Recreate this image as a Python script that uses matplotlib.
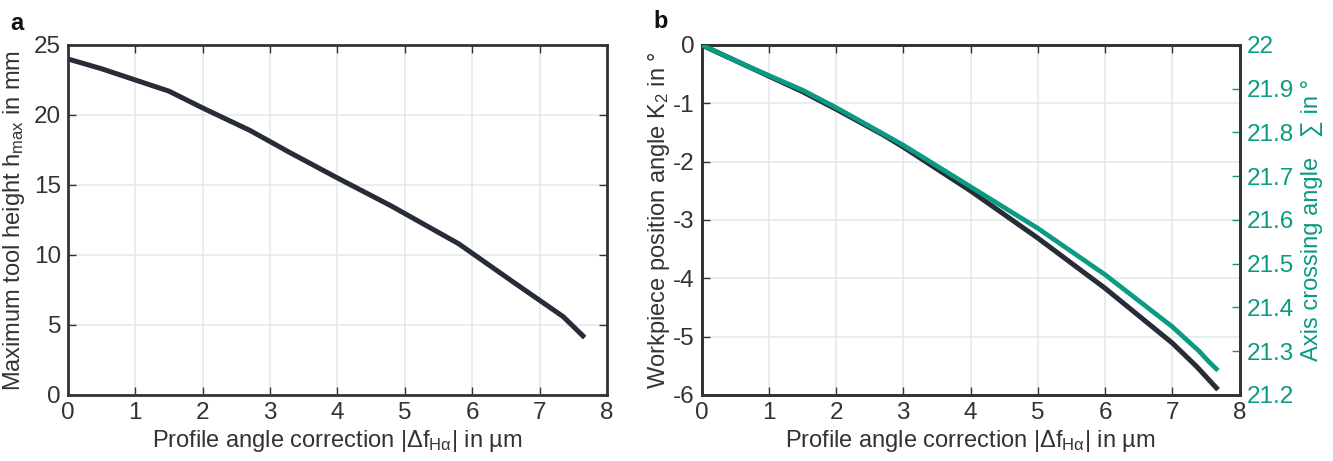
import matplotlib
matplotlib.use("Agg")
import matplotlib.pyplot as plt
from matplotlib.ticker import FuncFormatter, MultipleLocator

plt.rcParams['font.family'] = ['Liberation Sans', 'DejaVu Sans']
plt.rcParams['mathtext.fontset'] = 'custom'
plt.rcParams['mathtext.rm'] = 'Liberation Sans'
plt.rcParams['mathtext.it'] = 'Liberation Sans:italic'
plt.rcParams['axes.unicode_minus'] = False

# panel a: tool height over profile angle correction
corr_a = [0.0, 0.5, 1.0, 1.5, 2.0, 2.7, 3.3, 4.0, 4.8, 5.8, 6.6, 7.35, 7.67]
h_max = [24.0, 23.3, 22.5, 21.7, 20.5, 18.9, 17.3, 15.5, 13.5, 10.8, 8.1, 5.6, 4.1]

# panel b: workpiece position angle K2 (left) and axis crossing angle (right)
corr_k2 = [0.0, 0.75, 1.5, 2.0, 2.7, 3.0, 4.0, 5.0, 6.0, 7.0, 7.36, 7.68]
k2 = [0.0, -0.4, -0.8, -1.1, -1.54, -1.75, -2.5, -3.31, -4.17, -5.11, -5.51, -5.91]
corr_sig = [0.0, 0.75, 1.5, 2.0, 2.7, 3.0, 4.0, 5.0, 6.0, 7.0, 7.4, 7.55, 7.68]
sigma = [22.0, 21.947, 21.897, 21.857, 21.797, 21.771, 21.676, 21.581, 21.475, 21.356, 21.30, 21.275, 21.256]

dark = '#272c38'
green = '#0b9a82'
txt = '#333333'
gridc = '#e2e8e8'
fs = 17

fig = plt.figure(figsize=(13.33, 4.61), dpi=100)
ax1 = fig.add_axes([0.051, 0.1432, 0.4043, 0.7592])
ax2 = fig.add_axes([0.5263, 0.1432, 0.4036, 0.7592])

xlab = r'Profile angle correction |Δf$_{\mathrm{Hα}}$| in µm'

def style(ax):
    ax.set_xlim(0, 8)
    ax.xaxis.set_major_locator(MultipleLocator(1))
    ax.grid(True, color=gridc, linewidth=1.1)
    ax.set_axisbelow(True)
    for s in ax.spines.values():
        s.set_color('#333333')
        s.set_linewidth(2)
    ax.tick_params(direction='in', length=6, width=1, colors=txt, labelsize=17.5, pad=5)
    ax.set_xlabel(xlab, fontsize=fs, color=txt, labelpad=3)

style(ax1)
ax1.plot(corr_a, h_max, color=dark, lw=3.6, solid_capstyle='butt')
ax1.set_ylim(0, 25)
ax1.yaxis.set_major_locator(MultipleLocator(5))
ax1.tick_params(top=True, right=True)
ax1.set_ylabel(r'Maximum tool height h$_{\mathrm{max}}$ in mm', fontsize=fs, color=txt, labelpad=5)

style(ax2)
ax2.plot(corr_k2, k2, color=dark, lw=3.6, solid_capstyle='butt', zorder=3)
ax2.set_ylim(-6, 0)
ax2.yaxis.set_major_locator(MultipleLocator(1))
ax2.tick_params(top=True)
ax2.set_ylabel(r'Workpiece position angle K$_2$ in °', fontsize=fs, color=txt, labelpad=1)

ax3 = ax2.twinx()
ax3.plot(corr_sig, sigma, color=green, lw=3.4, solid_capstyle='butt', zorder=4)
ax3.set_ylim(21.2, 22.0)
ax3.yaxis.set_major_locator(MultipleLocator(0.1))
ax3.yaxis.set_major_formatter(FuncFormatter(lambda v, p: '%g' % round(v, 1)))
ax3.tick_params(axis='y', direction='in', length=6, width=1, colors=green, labelsize=17.5, pad=5)
for s in ax3.spines.values():
    s.set_color('#333333')
    s.set_linewidth(2)
ax3.set_ylabel('Axis crossing angle   ∑ in °', fontsize=fs, color=green, labelpad=5)

fig.text(0.008, 0.935, 'a', fontsize=17, fontweight='bold', color='#111111')
fig.text(0.49, 0.94, 'b', fontsize=17, fontweight='bold', color='#111111')

fig.savefig('out.png', dpi=100)
